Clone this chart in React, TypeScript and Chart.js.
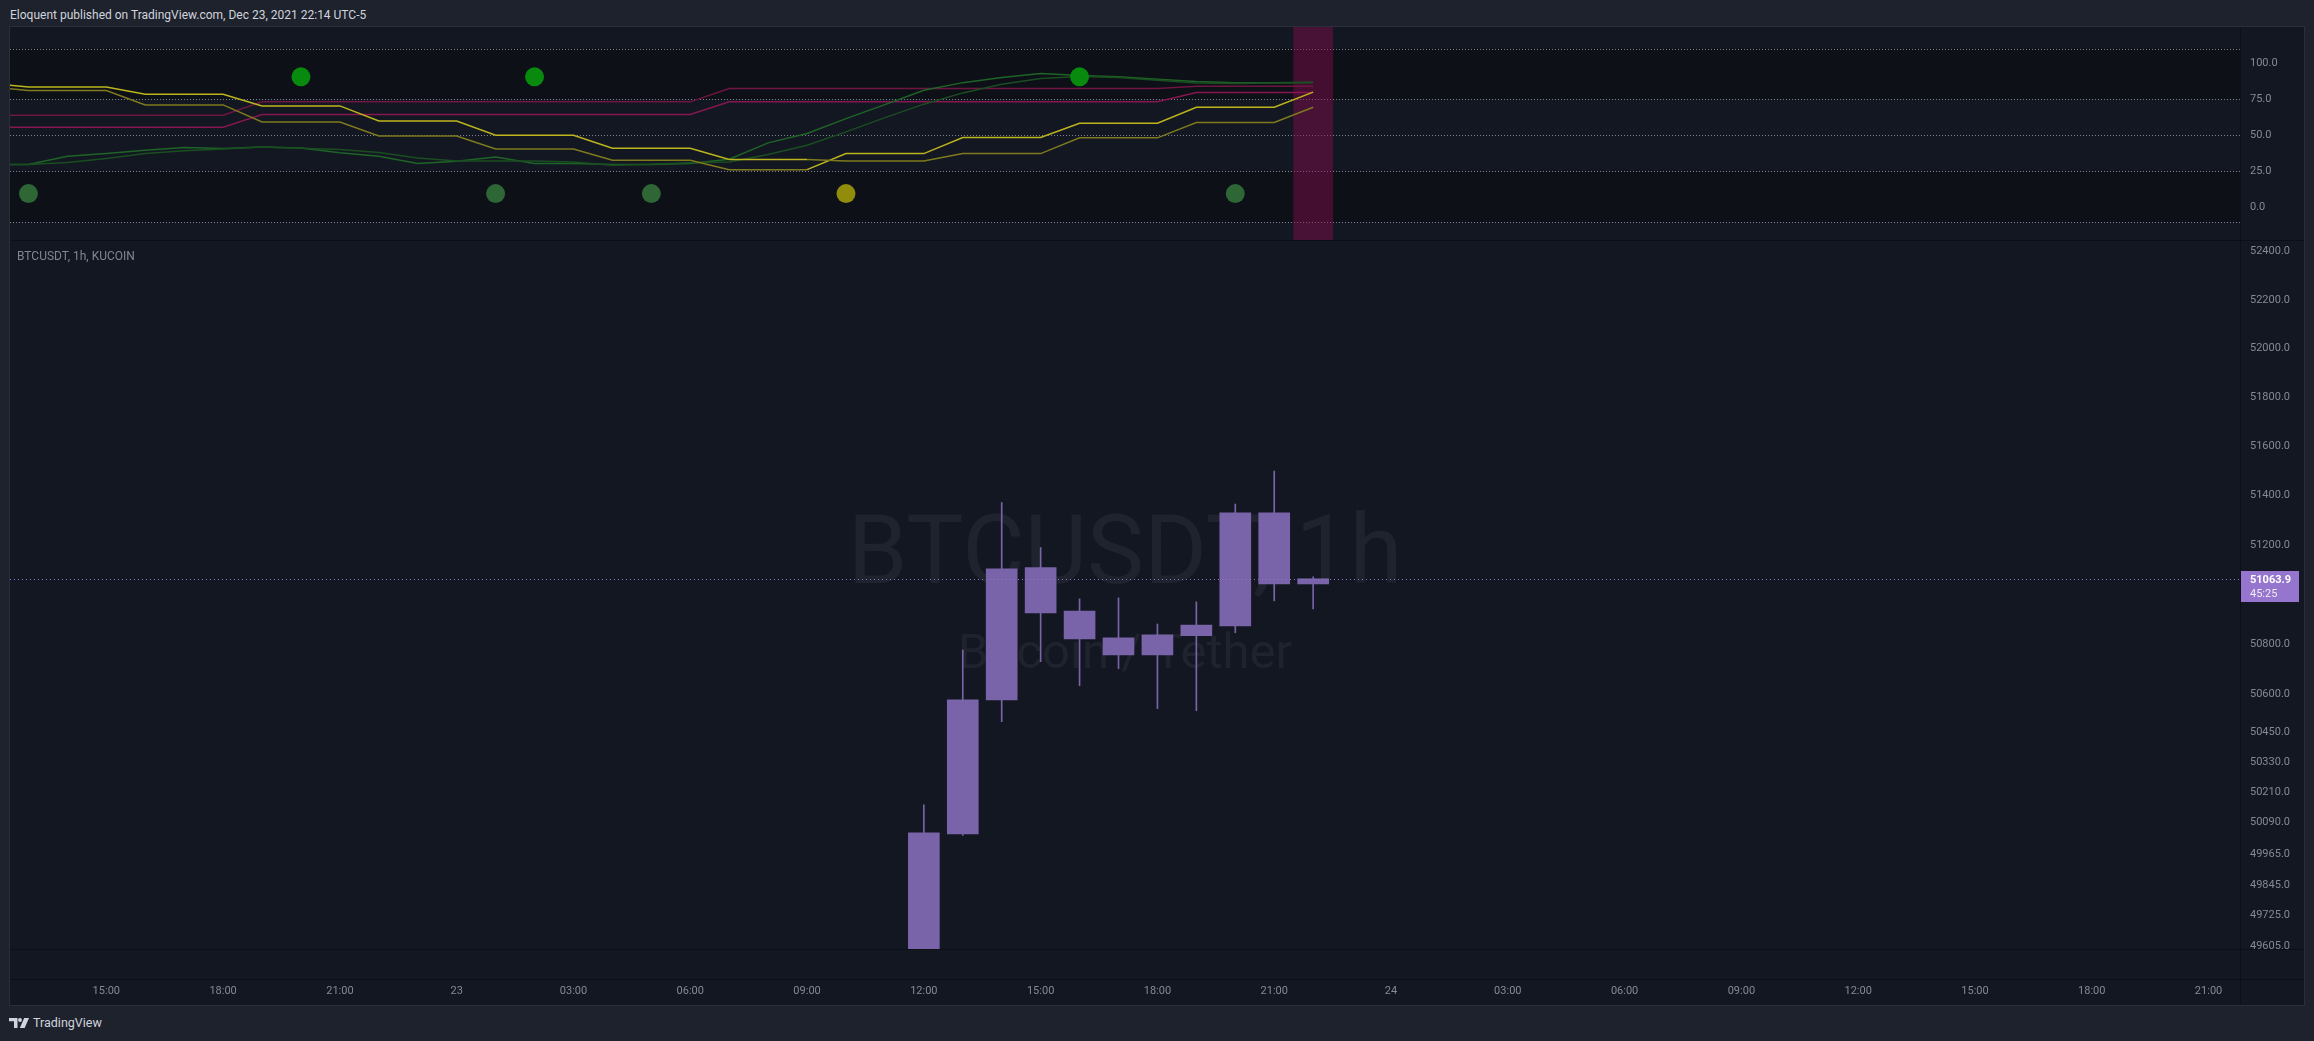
import React, { useEffect, useRef } from "react";
import { Chart, registerables } from "chart.js";

Chart.register(...registerables);

// ---------------- data ----------------
// indicator pane (hours counted from Dec 22 00:00)
const IND_HOURS = [12, 13, 14, 15, 16, 17, 18, 19, 20, 21, 22, 23, 24, 25, 26, 27, 28, 29, 30, 31, 32, 33, 34, 35, 36, 37, 38, 39, 40, 41, 42, 43, 44, 45, 46];
const YELLOW_FAST = [83.4, 80.9, 80.9, 80.9, 71.0, 71.0, 71.0, 59.2, 59.2, 59.2, 49.5, 49.5, 49.5, 40.5, 40.5, 40.5, 32.7, 32.7, 32.7, 26.2, 26.2, 26.2, 37.3, 37.3, 37.3, 48.4, 48.4, 48.4, 58.3, 58.3, 58.3, 69.4, 69.4, 69.4, 79.8];
const YELLOW_SLOW = [86.0, 83.4, 83.4, 83.4, 78.4, 78.4, 78.4, 70.3, 70.3, 70.3, 59.9, 59.9, 59.9, 50.0, 50.0, 50.0, 41.0, 41.0, 41.0, 33.2, 33.2, 33.2, 32.2, 32.2, 32.2, 37.3, 37.3, 37.3, 48.2, 48.2, 48.2, 58.8, 58.8, 58.8, 69.4];
const PINK_UPPER = [63.8, 63.8, 63.8, 63.8, 63.8, 63.8, 63.8, 73.1, 73.1, 73.1, 73.1, 73.1, 73.1, 73.1, 73.1, 73.1, 73.1, 73.1, 73.1, 82.3, 82.3, 82.3, 82.3, 82.3, 82.3, 82.3, 82.3, 82.3, 82.3, 82.3, 82.3, 83.9, 83.9, 83.9, 83.9];
const PINK_LOWER = [55.5, 55.5, 55.5, 55.5, 55.5, 55.5, 55.5, 64.3, 64.3, 64.3, 64.3, 64.3, 64.3, 64.3, 64.3, 64.3, 64.3, 64.3, 64.3, 73.1, 73.1, 73.1, 73.1, 73.1, 73.1, 73.1, 73.1, 73.1, 73.1, 73.1, 73.1, 79.5, 79.5, 79.5, 79.5];
const GREEN_FAST = [29.7, 29.7, 35.5, 37.3, 39.6, 41.5, 40.8, 41.9, 41.2, 37.8, 35.5, 30.4, 32.0, 35.0, 30.4, 30.4, 29.7, 29.7, 30.4, 33.4, 44.7, 51.2, 61.5, 71.2, 81.1, 86.4, 89.9, 92.7, 91.3, 90.4, 88.8, 87.2, 86.4, 86.4, 86.7];
const GREEN_SLOW = [29.7, 29.7, 31.1, 33.9, 37.3, 39.2, 40.5, 41.9, 41.0, 40.1, 38.0, 34.3, 32.2, 32.2, 32.2, 31.5, 29.2, 29.9, 30.9, 31.5, 36.6, 43.1, 52.3, 62.2, 71.5, 79.3, 85.3, 89.2, 90.6, 89.9, 88.1, 86.2, 85.8, 86.2, 86.4];
const DOT_HIGH_HOURS = [20, 26, 40];
const DOT_HIGH_VALUE = 90.4;
const DOT_LOW_GREEN_HOURS = [13, 25, 29, 44];
const DOT_LOW_YELLOW_HOURS = [34];
const DOT_LOW_VALUE = 9.6;
const HIGHLIGHT_HOURS = [46];
const IND_TICKS = [100, 75, 50, 25, 0];
const IND_LEVELS = [110, 75, 50, 25, -10];
const IND_BANDS = [[75, 110], [-10, 25]];

// price pane (BTCUSDT 1h)
const CANDLE_HOURS = [36, 37, 38, 39, 40, 41, 42, 43, 44, 45, 46];
const OPEN = [49520, 50046, 50578, 51109, 50934, 50826, 50758, 50835, 50874, 51330, 51043];
const HIGH = [50161, 50778, 51372, 51190, 50983, 50987, 50882, 50971, 51366, 51500, 51072];
const LOW = [49480, 50040, 50491, 50731, 50635, 50703, 50543, 50535, 50847, 50975, 50942];
const CLOSE = [50050, 50578, 51104, 50926, 50822, 50758, 50838, 50878, 51330, 51043, 51063.9];
const LAST_PRICE = 51063.9;
const COUNTDOWN = "45:25";
const PRICE_TICKS = [52400, 52200, 52000, 51800, 51600, 51400, 51200, 50800, 50600, 50450, 50330, 50210, 50090, 49965, 49845, 49725, 49605];

// time axis
const TIME_TICK_HOURS = [15, 18, 21, 24, 27, 30, 33, 36, 39, 42, 45, 48, 51, 54, 57, 60, 63, 66, 69];
const TIME_TICK_LABELS = ["15:00", "18:00", "21:00", "23", "03:00", "06:00", "09:00", "12:00", "15:00", "18:00", "21:00", "24", "03:00", "06:00", "09:00", "12:00", "15:00", "18:00", "21:00"];

const HEADER_TEXT = "Eloquent published on TradingView.com, Dec 23, 2021 22:14 UTC-5";
const SYMBOL_TEXT = "BTCUSDT, 1h, KUCOIN";
const WATERMARK_MAIN = "BTCUSDT, 1h";
const WATERMARK_SUB = "Bitcoin / Tether";

// ---------------- layout & style ----------------
const FONT = "Roboto, 'Noto Sans', sans-serif";
const PANE_LEFT = 10;
const PANE_W = 2294;
const AXIS_W = 64;
const IND_TOP = 27;
const IND_H = 213;
const PRICE_TOP = 240;
const PRICE_H = 709;
const TIME_TOP = 949;
const TIME_H = 56;
const TIME_AXIS_H = 26;
const X_MIN = 12.526;
const X_MAX = 69.808;
const HOUR_PX = (PANE_W - AXIS_W) / (X_MAX - X_MIN);
const IND_MIN = -22.5;
const IND_MAX = 124.9;
const PRICE_MIN = 49593.3;
const PRICE_MAX = 52447.6;

const BG = "#131722";
const OUTER_BG = "#1e222d";
const SEP = "#0c0f15";
const BAND_FILL = "rgba(0,0,0,0.3)";
const LEVEL_COLOR = "#80838d";
const AXIS_TEXT = "#868993";
const YELLOW_BRIGHT = "#bdb51c";
const YELLOW_DIM = "#7f7a1d";
const PINK_A = "#6e1541";
const PINK_B = "#861650";
const GREEN_A = "#1f6427";
const GREEN_B = "#1a4e21";
const DOT_GREEN = "rgb(8,138,14)";
const DOT_DARK_GREEN = "rgb(46,102,54)";
const DOT_YELLOW = "rgb(145,140,10)";
const HIGHLIGHT = "rgba(136,14,79,0.45)";
const CANDLE_UP = "rgb(121,99,169)";
const CANDLE_DOWN = "rgb(121,99,169)";
const TAG_COLOR = "#9575cd";

const fixedWidth = (s: any) => {
  s.width = AXIS_W;
  s.paddingTop = 0;
  s.paddingBottom = 0;
  s.paddingLeft = 0;
  s.paddingRight = 0;
};

const indBackdrop = {
  id: "indBackdrop",
  beforeDatasetsDraw(chart: any) {
    const { ctx, chartArea: a, scales } = chart;
    const y = scales.y;
    ctx.save();
    ctx.fillStyle = BAND_FILL;
    IND_BANDS.forEach(([lo, hi]) => {
      const t = y.getPixelForValue(hi);
      const b = y.getPixelForValue(lo);
      ctx.fillRect(a.left, t, a.right - a.left, b - t);
    });
    ctx.strokeStyle = LEVEL_COLOR;
    ctx.lineWidth = 1;
    ctx.setLineDash([1, 2]);
    IND_LEVELS.forEach((v) => {
      const py = Math.round(y.getPixelForValue(v)) + 0.5;
      ctx.beginPath();
      ctx.moveTo(a.left, py);
      ctx.lineTo(a.right, py);
      ctx.stroke();
    });
    ctx.restore();
  },
};

const watermark = {
  id: "watermark",
  beforeDatasetsDraw(chart: any) {
    const { ctx, chartArea: a } = chart;
    const cx = (a.left + a.right) / 2;
    ctx.save();
    ctx.fillStyle = "rgba(178,181,190,0.08)";
    ctx.textAlign = "center";
    ctx.textBaseline = "alphabetic";
    ctx.font = `96px ${FONT}`;
    ctx.fillText(WATERMARK_MAIN, cx, a.top + 343);
    ctx.font = `49px ${FONT}`;
    ctx.fillText(WATERMARK_SUB, cx, a.top + 428);
    ctx.restore();
  },
};

const priceLine = {
  id: "priceLine",
  afterDatasetsDraw(chart: any) {
    const { ctx, chartArea: a, scales } = chart;
    const py = Math.round(scales.y.getPixelForValue(LAST_PRICE)) + 0.5;
    ctx.save();
    ctx.strokeStyle = TAG_COLOR;
    ctx.lineWidth = 1;
    ctx.setLineDash([1, 3]);
    ctx.beginPath();
    ctx.moveTo(a.left, py);
    ctx.lineTo(a.right, py);
    ctx.stroke();
    ctx.restore();
  },
  afterDraw(chart: any) {
    const { ctx, chartArea: a, scales } = chart;
    const py = scales.y.getPixelForValue(LAST_PRICE);
    ctx.save();
    ctx.fillStyle = TAG_COLOR;
    ctx.fillRect(a.right, Math.round(py) - 8, 59, 31);
    ctx.textBaseline = "middle";
    ctx.textAlign = "left";
    ctx.fillStyle = "#ffffff";
    ctx.font = `bold 11px ${FONT}`;
    ctx.fillText(LAST_PRICE.toFixed(1), a.right + 10, Math.round(py) + 1);
    ctx.fillStyle = "rgba(255,255,255,0.85)";
    ctx.font = `11px ${FONT}`;
    ctx.fillText(COUNTDOWN, a.right + 10, Math.round(py) + 15);
    ctx.restore();
  },
};

const lineSet = (data: number[], color: any, order = 5) => ({
  type: "line" as const,
  data: IND_HOURS.map((h, i) => ({ x: h, y: data[i] })),
  borderColor: typeof color === "string" ? color : YELLOW_BRIGHT,
  segment: typeof color === "string" ? undefined : { borderColor: color },
  borderWidth: 1.5,
  pointRadius: 0,
  tension: 0,
  fill: false,
  order,
});

const dotSet = (hours: number[], value: number, color: string) => ({
  type: "scatter" as const,
  data: hours.map((h) => ({ x: h, y: value })),
  backgroundColor: color,
  borderColor: color,
  pointRadius: 9.5,
  borderWidth: 0,
  order: 0,
});

const baseOptions = {
  animation: false as const,
  responsive: false,
  events: [] as any[],
  layout: { padding: 0, autoPadding: false },
  plugins: { legend: { display: false }, tooltip: { enabled: false } },
};

export default function App() {
  const indRef = useRef<HTMLCanvasElement>(null);
  const priceRef = useRef<HTMLCanvasElement>(null);
  const timeRef = useRef<HTMLCanvasElement>(null);

  useEffect(() => {
    Chart.defaults.font.family = FONT;
    const charts: Chart[] = [];

    const fastColor = (c: any) => (YELLOW_FAST[c.p1DataIndex] >= YELLOW_SLOW[c.p1DataIndex] ? YELLOW_BRIGHT : YELLOW_DIM);
    const slowColor = (c: any) => (YELLOW_SLOW[c.p1DataIndex] > YELLOW_FAST[c.p1DataIndex] ? YELLOW_BRIGHT : YELLOW_DIM);

    charts.push(
      new Chart(indRef.current!, {
        type: "line",
        data: {
          datasets: [
            {
              type: "bar",
              data: HIGHLIGHT_HOURS.map((h) => ({ x: h, y: [IND_MIN - 100, IND_MAX + 100] })),
              backgroundColor: HIGHLIGHT,
              barThickness: HOUR_PX,
              grouped: false,
              clip: 0,
              order: 20,
            } as any,
            lineSet(GREEN_SLOW, GREEN_B),
            lineSet(GREEN_FAST, GREEN_A),
            lineSet(PINK_UPPER, PINK_A),
            lineSet(PINK_LOWER, PINK_B),
            lineSet(YELLOW_SLOW, slowColor, 4),
            lineSet(YELLOW_FAST, fastColor, 4),
            dotSet(DOT_HIGH_HOURS, DOT_HIGH_VALUE, DOT_GREEN),
            dotSet(DOT_LOW_GREEN_HOURS, DOT_LOW_VALUE, DOT_DARK_GREEN),
            dotSet(DOT_LOW_YELLOW_HOURS, DOT_LOW_VALUE, DOT_YELLOW),
          ] as any,
        },
        options: {
          ...baseOptions,
          scales: {
            x: { type: "linear", min: X_MIN, max: X_MAX, display: false, offset: false },
            y: {
              type: "linear",
              position: "right",
              min: IND_MIN,
              max: IND_MAX,
              afterFit: fixedWidth,
              afterBuildTicks: (s: any) => {
                s.ticks = IND_TICKS.map((v) => ({ value: v }));
              },
              grid: { display: false, drawTicks: false },
              border: { display: false },
              ticks: {
                autoSkip: false,
                padding: 10,
                color: AXIS_TEXT,
                font: { size: 11, family: FONT },
                callback: (v: any) => Number(v).toFixed(1),
              },
            },
          },
        } as any,
        plugins: [indBackdrop],
      })
    );

    charts.push(
      new Chart(priceRef.current!, {
        type: "bar",
        data: {
          datasets: [
            {
              data: CANDLE_HOURS.map((h, i) => ({ x: h, y: [LOW[i], HIGH[i]] })),
              backgroundColor: CANDLE_HOURS.map((_, i) => (CLOSE[i] >= OPEN[i] ? CANDLE_UP : CANDLE_DOWN)),
              barThickness: 1,
              grouped: false,
              clip: 0,
              order: 2,
            },
            {
              data: CANDLE_HOURS.map((h, i) => ({ x: h, y: [OPEN[i], CLOSE[i]] })),
              backgroundColor: CANDLE_HOURS.map((_, i) => (CLOSE[i] >= OPEN[i] ? CANDLE_UP : CANDLE_DOWN)),
              barThickness: 31,
              minBarLength: 1,
              grouped: false,
              clip: 0,
              order: 1,
            },
          ] as any,
        },
        options: {
          ...baseOptions,
          scales: {
            x: { type: "linear", min: X_MIN, max: X_MAX, display: false, offset: false },
            y: {
              type: "logarithmic",
              position: "right",
              min: PRICE_MIN,
              max: PRICE_MAX,
              afterFit: fixedWidth,
              afterBuildTicks: (s: any) => {
                s.ticks = PRICE_TICKS.map((v) => ({ value: v }));
              },
              grid: { display: false, drawTicks: false },
              border: { display: false },
              ticks: {
                autoSkip: false,
                padding: 10,
                color: AXIS_TEXT,
                font: { size: 11, family: FONT },
                callback: (v: any) => Number(v).toFixed(1),
              },
            },
          },
        } as any,
        plugins: [watermark, priceLine],
      })
    );

    charts.push(
      new Chart(timeRef.current!, {
        type: "scatter",
        data: { datasets: [{ data: [] }] },
        options: {
          ...baseOptions,
          layout: { padding: { right: AXIS_W }, autoPadding: false },
          scales: {
            x: {
              type: "linear",
              min: X_MIN,
              max: X_MAX,
              position: "bottom",
              afterFit: (s: any) => {
                s.height = TIME_AXIS_H;
                s.paddingLeft = 0;
                s.paddingRight = 0;
              },
              afterBuildTicks: (s: any) => {
                s.ticks = TIME_TICK_HOURS.map((v) => ({ value: v }));
              },
              grid: { display: false, drawTicks: false },
              border: { display: false },
              ticks: {
                autoSkip: false,
                maxRotation: 0,
                padding: 6,
                color: AXIS_TEXT,
                font: { size: 11, family: FONT },
                callback: (_v: any, i: number) => TIME_TICK_LABELS[i],
              },
            },
            y: { display: false, min: 0, max: 1 },
          },
        } as any,
      })
    );

    return () => charts.forEach((c) => c.destroy());
  }, []);

  const abs = (l: number, t: number, w: number, h: number, extra: any = {}) => ({
    position: "absolute" as const,
    left: l,
    top: t,
    width: w,
    height: h,
    ...extra,
  });

  return (
    <div style={{ position: "fixed", left: 0, top: 0, width: 2314, height: 1041, background: OUTER_BG, overflow: "hidden", fontFamily: FONT }}>
      <div style={{ position: "absolute", left: 10, top: 8, fontSize: 12, lineHeight: "14px", color: "#d1d4dc", whiteSpace: "nowrap" }}>{HEADER_TEXT}</div>
      <div style={abs(9, 26, 2296, 980, { background: BG, border: "1px solid #2a2e39", boxSizing: "border-box" })} />
      <canvas ref={indRef} width={PANE_W} height={IND_H} style={abs(PANE_LEFT, IND_TOP, PANE_W, IND_H)} />
      <canvas ref={priceRef} width={PANE_W} height={PRICE_H} style={abs(PANE_LEFT, PRICE_TOP, PANE_W, PRICE_H)} />
      <canvas ref={timeRef} width={PANE_W} height={TIME_H} style={abs(PANE_LEFT, TIME_TOP, PANE_W, TIME_H)} />
      <div style={abs(PANE_LEFT, PRICE_TOP, PANE_W, 1, { background: SEP })} />
      <div style={abs(PANE_LEFT, TIME_TOP, PANE_W, 1, { background: SEP })} />
      <div style={abs(PANE_LEFT, TIME_TOP + TIME_H - TIME_AXIS_H, PANE_W, 1, { background: SEP })} />
      <div style={abs(PANE_LEFT + PANE_W - AXIS_W, IND_TOP, 1, 1005 - IND_TOP, { background: SEP })} />
      <div style={{ position: "absolute", left: 17, top: 249, fontSize: 12, lineHeight: "14px", color: "#83868f", whiteSpace: "nowrap" }}>{SYMBOL_TEXT}</div>
      <div style={{ position: "absolute", left: 9, top: 1016, height: 14, display: "flex", alignItems: "center", gap: 4 }}>
        <svg width="20" height="10" viewBox="0 0 20 10">
          <path d="M0 0H8.5V10H5V3.3H0Z" fill="#d1d4dc" />
          <circle cx="11" cy="2" r="1.9" fill="#d1d4dc" />
          <path d="M15.2 0H20L15.6 10H10.8Z" fill="#d1d4dc" />
        </svg>
        <span style={{ fontSize: 12.5, lineHeight: "14px", color: "#d1d4dc" }}>TradingView</span>
      </div>
    </div>
  );
}
